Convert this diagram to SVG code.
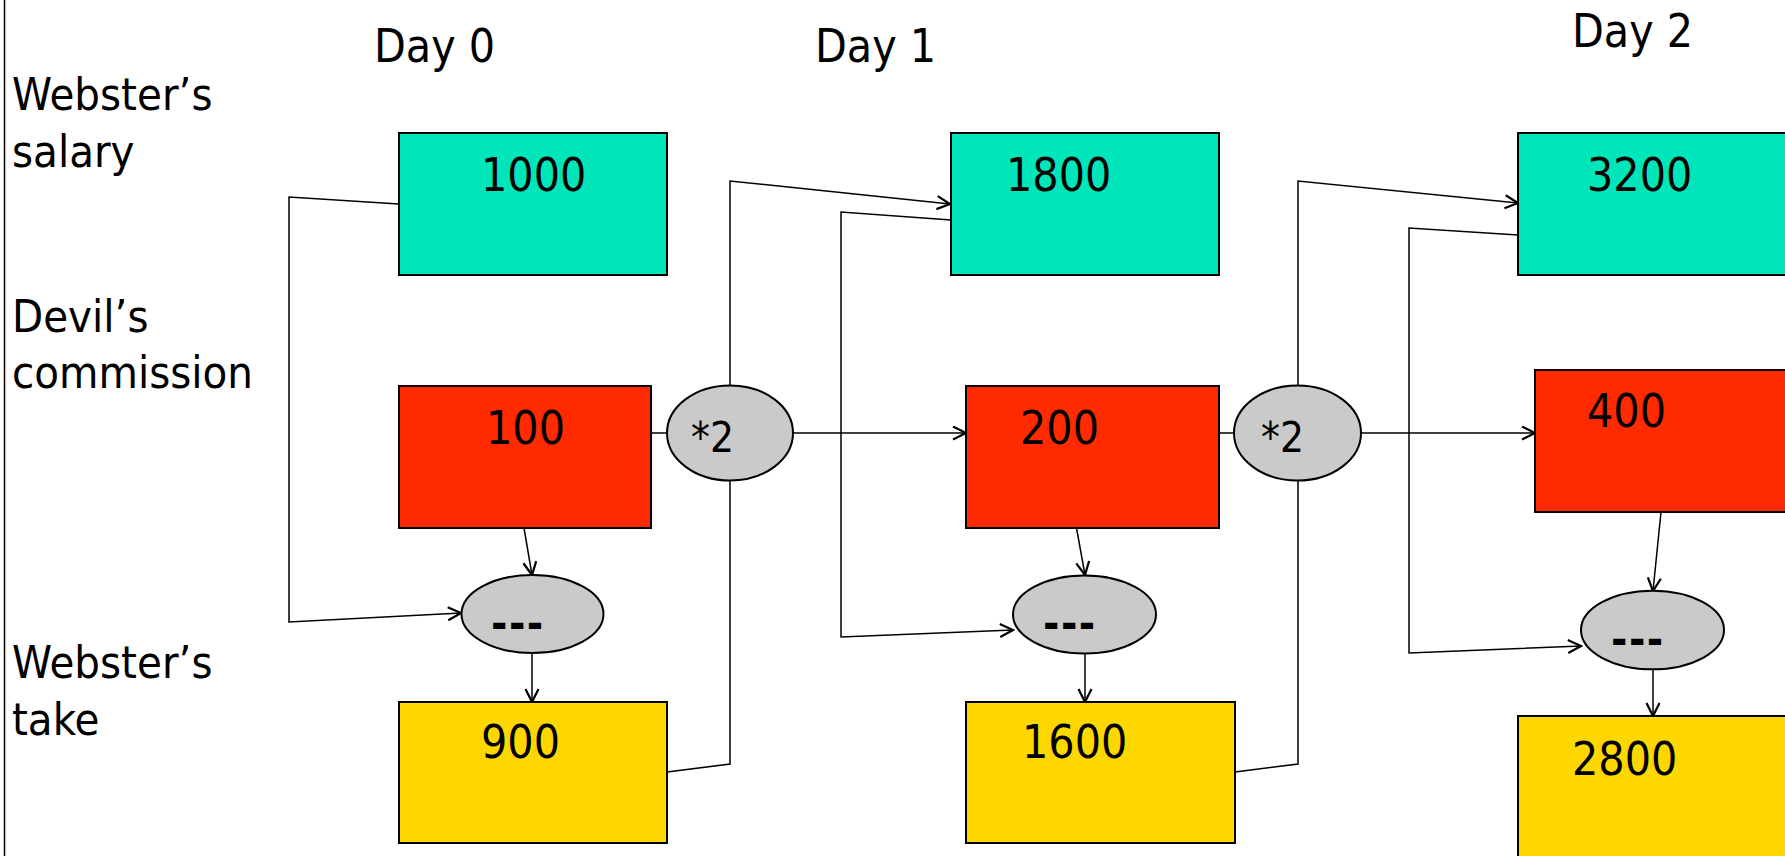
<svg xmlns="http://www.w3.org/2000/svg" width="1785" height="856" viewBox="0 0 1785 856">
  <style>
    text { font-family: "DejaVu Sans Condensed", "DejaVu Sans", sans-serif; font-stretch: condensed; fill: #000; }
    .lbl { font-size: 45px; }
    .num { font-size: 46px; }
    .op { font-size: 42px; }
    .dash { font-size: 44px; font-weight: bold; letter-spacing: 1.5px; }
    .salary { fill: #00E5B9; stroke: #000; stroke-width: 2; }
    .comm { fill: #FF2A00; stroke: #000; stroke-width: 2; }
    .take { fill: #FFD700; stroke: #000; stroke-width: 2; }
    .oper { fill: #CACACA; stroke: #000; stroke-width: 2; }
    .conn { fill: none; stroke: #000; stroke-width: 1.5; stroke-linejoin: miter; }
    .arr { marker-end: url(#open); }
  </style>
  <defs>
    <marker id="open" markerUnits="userSpaceOnUse" markerWidth="16" markerHeight="16" viewBox="-1 -1 16 16" refX="13" refY="6.5" orient="auto">
      <path d="M0,0 L13,6.5 L0,13" fill="none" stroke="#000" stroke-width="2.2"/>
    </marker>
  </defs>

  <rect width="1785" height="856" fill="#fff"/>
  <!-- frame edge on the left -->
  <line x1="4.5" y1="0" x2="4.5" y2="856" stroke="#000" stroke-width="1.5"/>

  <!-- row headings -->
  <g id="row-labels">
    <text class="lbl" x="12" y="110">Webster’s</text>
    <text class="lbl" x="12" y="167">salary</text>
    <text class="lbl" x="12" y="332">Devil’s</text>
    <text class="lbl" x="12" y="388">commission</text>
    <text class="lbl" x="12" y="678">Webster’s</text>
    <text class="lbl" x="12" y="735">take</text>
  </g>

  <!-- column headings -->
  <g id="day-labels">
    <text class="num" x="374" y="62">Day 0</text>
    <text class="num" x="815" y="62">Day 1</text>
    <text class="num" x="1572" y="47">Day 2</text>
  </g>

  <!-- connectors -->
  <g id="connectors">
    <polyline class="conn arr" points="399,204 289,197 289,622 461,613"/>
    <polyline class="conn arr" points="524,528 532,575"/>
    <polyline class="conn arr" points="532,653 532,702"/>
    <polyline class="conn" points="651,433 667,433"/>
    <polyline class="conn arr" points="793,433 966,433"/>
    <polyline class="conn arr" points="730,386 730,181 950,204"/>
    <polyline class="conn" points="667,772 730,764 730,481"/>

    <polyline class="conn arr" points="951,220 841,212 841,637 1013,630"/>
    <polyline class="conn arr" points="1076.5,528 1085,575"/>
    <polyline class="conn arr" points="1085,654 1085,702"/>
    <polyline class="conn" points="1219,433 1235,433"/>
    <polyline class="conn arr" points="1361,433 1535,433"/>
    <polyline class="conn arr" points="1298,386 1298,181 1518,203"/>
    <polyline class="conn" points="1235,772 1298,764 1298,481"/>

    <polyline class="conn arr" points="1518,235 1409,228 1409,653 1581,646"/>
    <polyline class="conn arr" points="1661,512 1653,591"/>
    <polyline class="conn arr" points="1653,669 1653,716"/>
  </g>

  <!-- day 0 -->
  <g id="salary-0"><rect class="salary" x="399" y="133" width="268" height="142"/><text class="num" x="481" y="191">1000</text></g>
  <g id="commission-0"><rect class="comm" x="399" y="386" width="252" height="142"/><text class="num" x="486" y="444">100</text></g>
  <g id="minus-0"><ellipse class="oper" cx="532.5" cy="614" rx="71" ry="39"/><text class="dash" x="491" y="639">---</text></g>
  <g id="take-0"><rect class="take" x="399" y="702" width="268" height="141"/><text class="num" x="481" y="758">900</text></g>
  <g id="double-0"><ellipse class="oper" cx="730" cy="433" rx="63" ry="47.5"/><text class="op" x="691" y="452">*2</text></g>

  <!-- day 1 -->
  <g id="salary-1"><rect class="salary" x="951" y="133" width="268" height="142"/><text class="num" x="1006" y="191">1800</text></g>
  <g id="commission-1"><rect class="comm" x="966" y="386" width="253" height="142"/><text class="num" x="1020" y="444">200</text></g>
  <g id="minus-1"><ellipse class="oper" cx="1084.5" cy="614.5" rx="71.5" ry="39"/><text class="dash" x="1043" y="639">---</text></g>
  <g id="take-1"><rect class="take" x="966" y="702" width="269" height="141"/><text class="num" x="1022" y="758">1600</text></g>
  <g id="double-1"><ellipse class="oper" cx="1297.5" cy="433" rx="63.5" ry="47.5"/><text class="op" x="1261" y="452">*2</text></g>

  <!-- day 2 -->
  <g id="salary-2"><rect class="salary" x="1518" y="133" width="300" height="142"/><text class="num" x="1587" y="191">3200</text></g>
  <g id="commission-2"><rect class="comm" x="1535" y="370" width="300" height="142"/><text class="num" x="1587" y="427">400</text></g>
  <g id="minus-2"><ellipse class="oper" cx="1652.5" cy="630" rx="71.5" ry="39.3"/><text class="dash" x="1611" y="655">---</text></g>
  <g id="take-2"><rect class="take" x="1518" y="716" width="300" height="200"/><text class="num" x="1572" y="775">2800</text></g>
</svg>
